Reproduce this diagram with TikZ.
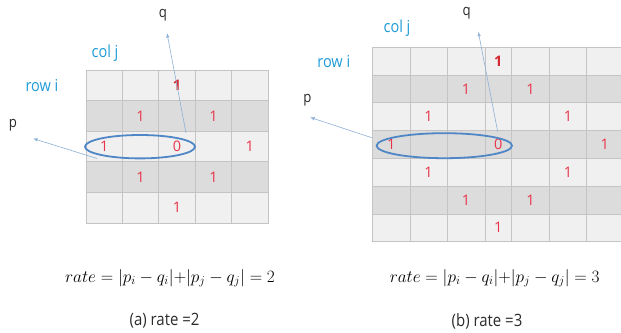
\documentclass[tikz,border=0pt]{standalone}
\usepackage{amsmath}
\usepackage{fontspec}
\newfontfamily\lblfont[FakeStretch=0.88]{Open Sans}
\newfontfamily\digfont{Open Sans}
\usetikzlibrary{arrows.meta}
\definecolor{gridcell}{HTML}{F0F0F0}
\definecolor{gridshade}{HTML}{DCDCDC}
\definecolor{gridline}{HTML}{C4C4C4}
\definecolor{hitred}{HTML}{E8344A}
\definecolor{hitdark}{HTML}{D42A32}
\definecolor{ringblue}{HTML}{4F86C6}
\definecolor{ptrblue}{HTML}{8DB0D6}
\definecolor{axiscyan}{HTML}{1E9BD7}
\definecolor{ink}{HTML}{2B2B2B}
\tikzset{
  cellbox/.style={draw=gridline, line width=0.8pt},
  hit/.style={font=\digfont\fontsize{14.5}{15}\selectfont, text=hitred, inner sep=0pt},
  hitbold/.style={hit, font=\digfont\fontsize{14.5}{15}\selectfont\bfseries, text=hitdark},
  ring/.style={draw=ringblue, line width=1.8pt},
  ptr/.style={-{Latex[length=1.6mm,width=1.2mm]}, draw=ptrblue, line width=0.6pt},
  axislbl/.style={font=\lblfont\fontsize{16.5}{17}\selectfont, text=axiscyan},
  ptlbl/.style={font=\lblfont\fontsize{15}{15}\selectfont, text=ink},
  rateeq/.style={font=\fontsize{17.2}{19}\selectfont, text=black},
  caplbl/.style={font=\lblfont\fontsize{17}{17}\selectfont, text=ink},
}
\newcommand{\rateof}[1]{$rate=\lvert p_i-q_i\rvert{+}\lvert p_j-q_j\rvert=#1$}

\begin{document}
\begin{tikzpicture}[x=1pt, y=-1pt]
  \useasboundingbox (0,0) rectangle (621,332);
  % (a) 5x5 grid
  \foreach \r/\shade in {0/gridcell,1/gridshade,2/gridcell,3/gridshade,4/gridcell}
    \foreach \c in {0,...,4}
      \draw[cellbox, fill=\shade] ({86+36.4*\c},{70+30.6*\r}) rectangle ++(36.4,30.6);
  \node[hitbold] (a-1-3) at (177,85.3) {1};
  \foreach \r/\c in {2/2,2/4,3/1,3/5,4/2,4/4,5/3}
    \node[hit] (a-\r-\c) at ({86+36.4*(\c-0.5)},{70+30.6*(\r-0.5)}) {1};
  \node[hit] (a-zero) at (177,146.5) {0};
  \draw[ring] (140,146.7) ellipse [x radius=55pt, y radius=11.7pt];
  \node[axislbl] (a-col) at (105,53) {col j};
  \node[axislbl] (a-row) at (42,86) {row i};
  \node[ptlbl] (a-q) at (163,15) {q};
  \node[ptlbl] (a-p) at (13,125) {p};
  \coordinate (a-qfrom) at (186,133);
  \coordinate (a-qto) at (167,33);
  \coordinate (a-pfrom) at (97,158.5);
  \coordinate (a-pto) at (33,138.5);
  \draw[ptr] (a-qfrom) -- (a-qto);
  \draw[ptr] (a-pfrom) -- (a-pto);
  \node[rateeq] (a-eq) at (170,278) {\rateof{2}};
  \node[caplbl] (a-cap) at (164.5,321) {(a) rate =2};

  % (b) 7x7 grid
  \foreach \r/\shade in {0/gridcell,1/gridshade,2/gridcell,3/gridshade,4/gridcell,5/gridshade,6/gridcell}
    \foreach \xa/\xb in {372.7/410,410/447.3,447.3/485,485/511.7,511.7/549.3,549.3/586.7,586.7/623}
      \draw[cellbox, fill=\shade] (\xa,{47.3+27.77*\r}) rectangle (\xb,{75.07+27.77*\r});
  \node[hitbold] (b-1-4) at (498.3,61.2) {1};
  \foreach \r/\x in {2/466.1,2/530.5,3/428.6,3/568,4/391.3,4/604.8,5/428.6,5/568,6/466.1,6/530.5,7/498.3}
    \node[hit] (b-\r-\x) at (\x,{47.3+27.77*(\r-0.5)}) {1};
  \node[hit] (b-zero) at (498.3,144.5) {0};
  \draw[ring] (444.3,145.7) ellipse [x radius=67.7pt, y radius=12.5pt];
  \node[axislbl] (b-col) at (397,28.3) {col j};
  \node[axislbl] (b-row) at (333.8,61.7) {row i};
  \node[ptlbl] (b-q) at (466.7,13.3) {q};
  \node[ptlbl] (b-p) at (307.3,100) {p};
  \coordinate (b-qfrom) at (497.7,131.7);
  \coordinate (b-qto) at (478.3,31.7);
  \coordinate (b-pfrom) at (371.7,137.7);
  \coordinate (b-pto) at (310,117.3);
  \draw[ptr] (b-qfrom) -- (b-qto);
  \draw[ptr] (b-pfrom) -- (b-pto);
  \node[rateeq] (b-eq) at (494.7,278) {\rateof{3}};
  \node[caplbl] (b-cap) at (487,321) {(b) rate =3};
\end{tikzpicture}
\end{document}
